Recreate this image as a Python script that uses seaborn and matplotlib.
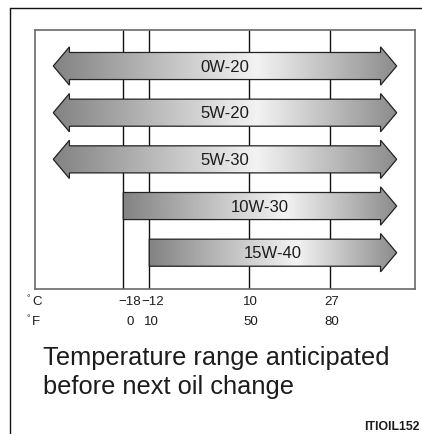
import numpy as np
import seaborn as sns
import matplotlib
matplotlib.use("Agg")
import matplotlib.pyplot as plt
from matplotlib.patches import Polygon
from matplotlib import transforms
from matplotlib.lines import Line2D

# Oil grades and the lowest anticipated temperature (°C) each one covers;
# None means the grade has no lower limit on this chart.
grades = ["0W-20", "5W-20", "5W-30", "10W-30", "15W-40"]
low_c = [None, None, None, -18, -12]

# Temperature marks on the scale
temps_c = [-18, -12, 10, 27]
temps_f = [0, 10, 50, 80]

caption = ["Temperature range anticipated", "before next oil change"]
code_label = "ITIOIL152"

# ---- styling -------------------------------------------------------------
sns.set_theme(style="white")
plt.rcParams["font.family"] = ["Liberation Sans", "DejaVu Sans"]
TXT = "#1c1c1c"

# Schematic (non-uniform) temperature scale: breakpoints in °C and the
# relative spacing used on the chart, extended linearly past the ends.
SCALE_C = np.array([-18.0, -12.0, 10.0, 27.0])
SCALE_U = np.array([0.0, 26.0, 126.0, 207.0])
SLOPE = 4.68


def fwd(c):
    c = np.asarray(c, dtype=float)
    mid = np.interp(c, SCALE_C, SCALE_U)
    lo = SCALE_U[0] + (c - SCALE_C[0]) * SLOPE
    hi = SCALE_U[-1] + (c - SCALE_C[-1]) * SLOPE
    return np.where(c < SCALE_C[0], lo, np.where(c > SCALE_C[-1], hi, mid))


def inv(u):
    u = np.asarray(u, dtype=float)
    mid = np.interp(u, SCALE_U, SCALE_C)
    lo = SCALE_C[0] + (u - SCALE_U[0]) / SLOPE
    hi = SCALE_C[-1] + (u - SCALE_U[-1]) / SLOPE
    return np.where(u < SCALE_U[0], lo, np.where(u > SCALE_U[-1], hi, mid))


XLIM = (-36.76, 45.1)
OPEN_LEFT, OPEN_RIGHT = -32.96, 41.19   # where open-ended arrows point
HEAD_LEN = 3.45                          # arrowhead length (°C, outer region)
BODY_HALF, HEAD_HALF = 0.29, 0.41

fig = plt.figure(figsize=(4.22, 4.35), dpi=100)
ax = fig.add_axes([0.0841, 0.3333, 0.8993, 0.5943])
ax.set_xscale("function", functions=(fwd, inv))

# vertical temperature guide lines behind the arrows
for t in temps_c:
    ax.axvline(t, color="#111111", lw=1.0, zorder=1)

# arrow fill: dark at the ends, lightest a bit right of centre
cmap = sns.blend_palette(["#838383", "#f3f3f3", "#8c8c8c"], as_cmap=True)
grad = np.interp(np.linspace(0, 1, 400), [0, 0.6, 1], [0, 0.5, 1])[np.newaxis, :]

for row, (grade, lo) in enumerate(zip(grades, low_c)):
    y = row
    if lo is None:
        x0 = OPEN_LEFT
        left = [(x0 + HEAD_LEN, y + BODY_HALF), (x0 + HEAD_LEN, y + HEAD_HALF),
                (x0, y), (x0 + HEAD_LEN, y - HEAD_HALF), (x0 + HEAD_LEN, y - BODY_HALF)]
    else:
        x0 = lo
        left = [(x0, y + BODY_HALF), (x0, y - BODY_HALF)]
    x1 = OPEN_RIGHT
    right = [(x1 - HEAD_LEN, y - BODY_HALF), (x1 - HEAD_LEN, y - HEAD_HALF),
             (x1, y), (x1 - HEAD_LEN, y + HEAD_HALF), (x1 - HEAD_LEN, y + BODY_HALF)]
    poly = Polygon(left + right, closed=True, facecolor="none",
                   edgecolor="#222222", lw=0.9, zorder=3)
    ax.add_patch(poly)
    im = ax.imshow(grad, extent=(x0, x1, y + HEAD_HALF, y - HEAD_HALF),
                   cmap=cmap, vmin=0, vmax=1, aspect="auto",
                   interpolation="bilinear", zorder=2)
    im.set_clip_path(poly)
    mid = float(inv((fwd(x0) + fwd(x1)) / 2))
    ax.text(mid, y, grade, ha="center", va="center", fontsize=12,
            color=TXT, zorder=4)

ax.set_xlim(*XLIM)
ax.set_ylim(4.778, -0.761)
ax.set_xticks([])
ax.set_yticks([])
for sp in ax.spines.values():
    sp.set_visible(True)
    sp.set_color("#6a6a6a")
    sp.set_linewidth(1.2)

# temperature labels under the chart, in °C and °F
trans = transforms.blended_transform_factory(ax.transData, fig.transFigure)
nudge_c = [6, 3, 1, 1]
nudge_f = [7, 2, 1, 1]
for t, dx in zip(temps_c, nudge_c):
    tr = transforms.offset_copy(trans, fig=fig, x=dx, units="dots")
    ax.text(t, 1 - 302 / 435, f"{t}".replace("-", "\u2212"), transform=tr,
            ha="center", va="center", fontsize=9.5, color=TXT, clip_on=False)
for tc, tf, dx in zip(temps_c, temps_f, nudge_f):
    tr = transforms.offset_copy(trans, fig=fig, x=dx, units="dots")
    ax.text(tc, 1 - 322 / 435, f"{tf}", transform=tr, ha="center",
            va="center", fontsize=9.5, color=TXT, clip_on=False)
for yy, unit in [(302, "C"), (322, "F")]:
    fig.text(27 / 422, 1 - (yy - 3) / 435, "\u00b0", ha="left", va="center",
             fontsize=6.5, color=TXT)
    fig.text(32 / 422, 1 - yy / 435, unit, ha="left", va="center",
             fontsize=9.5, color=TXT)

# caption
fig.text(43 / 422, 1 - 358 / 435, caption[0], ha="left", va="center",
         fontsize=18.3, color=TXT)
fig.text(43 / 422, 1 - 387 / 435, caption[1], ha="left", va="center",
         fontsize=18.3, color=TXT)
fig.text(420 / 422, 1 - 427 / 435, code_label, ha="right", va="center",
         fontsize=8.8, fontweight="bold", color=TXT)

# outer frame (left and top edges)
fx, fy = 10 / 422, 1 - 9.3 / 435
fig.add_artist(Line2D([fx, fx], [0, fy], transform=fig.transFigure,
                      color="#111111", lw=1.0))
fig.add_artist(Line2D([fx, 1], [fy, fy], transform=fig.transFigure,
                      color="#111111", lw=1.0))

fig.savefig("out.png", dpi=100)
